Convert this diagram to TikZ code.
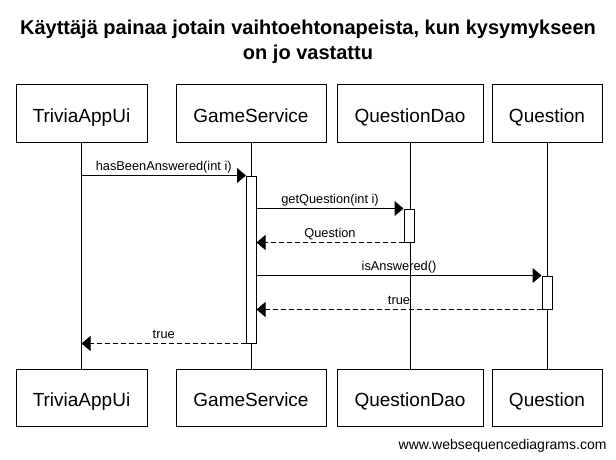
\documentclass[tikz,border=0pt]{standalone}
\usepackage{fontspec}
\setmainfont{Liberation Sans}
\usetikzlibrary{positioning,arrows.meta}

\begin{document}
\begin{tikzpicture}[x=1pt,y=-1pt,line width=1pt,
        actor/.style={draw,fill=white,minimum width=#1,minimum height=57,
            inner sep=0pt,text height=18.4pt,text depth=0pt,
            font=\fontsize{19}{19}\selectfont},
        bar/.style={draw,fill=white,minimum width=#1,inner sep=0pt},
        call/.style={-{Triangle[length=9pt,width=15pt]}},
        reply/.style={call,dash pattern=on 5pt off 3pt},
        msg/.style={midway,anchor=base,yshift=5pt,inner sep=0pt,
            font=\fontsize{12.8}{15}\selectfont}
        ]
        \useasboundingbox (0,0) rectangle (616,460);
        % Title
        \node[align=center,inner sep=0pt,font=\fontsize{20}{25}\bfseries\selectfont]
            (title) at (308,41.5) {Käyttäjä painaa jotain vaihtoehtonapeista, kun kysymykseen\\on jo vastattu};
        % Heads and feet
        \node[actor=131] (uiTop) at (81.5,113.5) {TriviaAppUi};
        \node[actor=150] (gsTop) at (251,113.5) {GameService};
        \node[actor=146] (daoTop) at (410,113.5) {QuestionDao};
        \node[actor=110] (qTop) at (547,113.5) {Question};
        \node[actor=131] (uiBot) at (81.5,397.5) {TriviaAppUi};
        \node[actor=150] (gsBot) at (251,397.5) {GameService};
        \node[actor=146] (daoBot) at (410,397.5) {QuestionDao};
        \node[actor=110] (qBot) at (547,397.5) {Question};
        \foreach \p in {ui,gs,dao,q}
            \draw (\p Top.south) -- (\p Bot.north); %lifelines
        % Activations
        \node[bar=9.5,minimum height=167] (gsAct) at (251.25,259.5) {};
        \node[bar=10,minimum height=33] (daoAct) at (409,225.5) {};
        \node[bar=10,minimum height=33] (qAct) at (547,292.5) {};
        % Messages
        \draw[call] (uiTop |- gsAct.north west) -- (gsAct.north west)
            node[msg] {hasBeenAnswered(int i)};
        \draw[call] (gsAct.east |- daoAct.north) -- (daoAct.north west)
            node[msg] {getQuestion(int i)};
        \draw[reply] (daoAct.south west) -- (gsAct.east |- daoAct.south)
            node[msg] {Question};
        \draw[call] (gsAct.east |- qAct.north) -- (qAct.north west)
            node[msg] {isAnswered()};
        \draw[reply] (qAct.south west) -- (gsAct.east |- qAct.south)
            node[msg] {true};
        \draw[reply] (gsAct.south west) -- (uiTop |- gsAct.south)
            node[msg] {true};
        \node[anchor=base east,inner sep=0pt,font=\fontsize{14}{14}\selectfont]
            (site) at (607,449) {www.websequencediagrams.com};
\end{tikzpicture}
\end{document}
